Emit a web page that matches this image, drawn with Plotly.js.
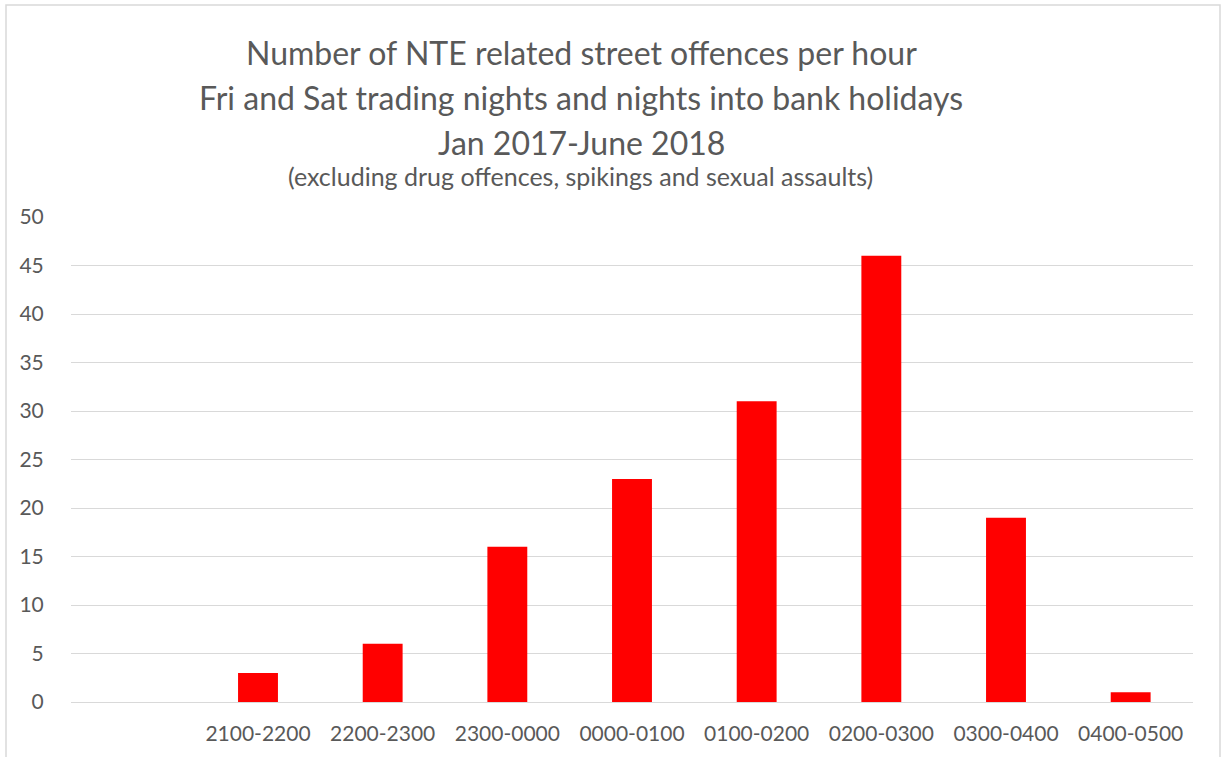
<!DOCTYPE html>
<html>
<head>
<meta charset="utf-8">
<script src="https://cdn.plot.ly/plotly-3.0.1.min.js"></script>
<style>
html,body{margin:0;padding:0;background:#fff;}
#chart{width:1230px;height:757px;}
</style>
</head>
<body>
<div id="chart"></div>
<script>
const categories = ["2100-2200","2200-2300","2300-0000","0000-0100","0100-0200","0200-0300","0300-0400","0400-0500"];
const offences = [3, 6, 16, 23, 31, 46, 19, 1];
const titleLines = [
  "Number of NTE related street offences per hour",
  "Fri and Sat trading nights and nights into bank holidays",
  "Jan 2017-June 2018"
];
const subtitle = "(excluding drug offences, spikings and sexual assaults)";
const yTicks = [0,5,10,15,20,25,30,35,40,45,50];

const W = 1230, H = 757;
const M = {l:71, r:37, t:217, b:55};
const pw = W - M.l - M.r, ph = H - M.t - M.b;
const px = x => (x - M.l) / pw;
const py = y => (H - M.b - y) / ph;

const font = "Lato, 'Open Sans', sans-serif";
const grey = "#595959";

const annotations = titleLines.map((t, i) => ({
  text: t, xref: 'paper', yref: 'paper', x: px(581), y: py([52, 97, 142][i]),
  xanchor: 'center', yanchor: 'middle', showarrow: false,
  font: {family: font, size: 32, color: grey}
}));
annotations.push({
  text: subtitle, xref: 'paper', yref: 'paper', x: px(580), y: py(176),
  xanchor: 'center', yanchor: 'middle', showarrow: false,
  font: {family: font, size: 25, color: grey}
});

Plotly.newPlot('chart', [{
  type: 'bar', x: categories, y: offences,
  marker: {color: '#FF0000'}, hoverinfo: 'x+y'
}], {
  width: W, height: H,
  margin: M,
  paper_bgcolor: '#fff', plot_bgcolor: '#fff',
  showlegend: false,
  bargap: 0.68,
  font: {family: font, color: grey},
  xaxis: {
    type: 'category', categoryarray: categories, categoryorder: 'array',
    range: [-1.5, 7.5], showgrid: false, zeroline: false, showline: false,
    ticks: 'outside', ticklen: 13, tickcolor: 'rgba(0,0,0,0)',
    tickfont: {family: font, size: 21, color: grey}
  },
  yaxis: {
    range: [0, 50], tickvals: yTicks, showgrid: true, gridcolor: '#d9d9d9', gridwidth: 1,
    zeroline: true, zerolinecolor: '#d9d9d9', zerolinewidth: 1, showline: false,
    ticks: 'outside', ticklen: 22, tickcolor: 'rgba(0,0,0,0)',
    tickfont: {family: font, size: 21, color: grey}
  },
  annotations: annotations,
  shapes: [{
    type: 'rect', xref: 'paper', yref: 'paper',
    x0: px(6), x1: px(1220), y0: py(770), y1: py(5),
    line: {color: '#d9d9d9', width: 1.5}, fillcolor: 'rgba(0,0,0,0)', layer: 'below'
  }]
}, {displayModeBar: false, staticPlot: false});
</script>
</body>
</html>
